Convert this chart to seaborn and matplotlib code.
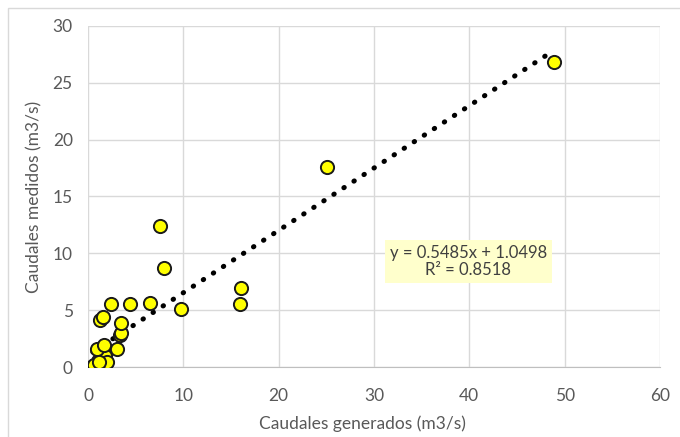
import matplotlib
matplotlib.use("Agg")
import matplotlib.pyplot as plt
import seaborn as sns
import pandas as pd
import numpy as np
from matplotlib.patches import Rectangle

# caudales generados (x) vs medidos (y)
generados = [0.5, 0.7, 0.9, 1.0, 1.4, 1.8, 1.95, 0.9, 1.7, 3.0, 3.4, 3.5, 3.5,
             1.3, 1.6, 2.4, 4.4, 6.5, 9.8, 15.95, 16.1, 7.55, 7.97, 25.1, 48.9, 0.6, 1.2]
medidos = [0.1, 0.2, 0.3, 0.5, 0.47, 0.97, 0.47, 1.55, 1.9, 1.6, 2.8, 2.95, 3.9,
           4.1, 4.4, 5.5, 5.5, 5.6, 5.1, 5.5, 6.95, 12.4, 8.7, 17.6, 26.8, 0.2, 0.4]

pendiente = 0.5485
intercepto = 1.0498
r2 = 0.8518

df = pd.DataFrame({"generados": generados, "medidos": medidos})

sns.set_style("white")
plt.rcParams["font.family"] = ["Lato", "DejaVu Sans"]

fig = plt.figure(figsize=(6.8, 4.37), dpi=100)
ax = fig.add_axes([88 / 680, 1 - 367 / 437, (660 - 88) / 680, (367 - 26) / 437])

# outer chart border
fig.patches.append(Rectangle((8 / 680, -0.1), 1.2, 1 - 8 / 437 + 0.1, transform=fig.transFigure,
                             fill=False, edgecolor="#d9d9d9", linewidth=1.0, zorder=0))

# trend line
x_line = np.array([min(generados), max(generados)])
trend = pd.DataFrame({"x": x_line, "y": pendiente * x_line + intercepto})
sns.lineplot(data=trend, x="x", y="y", ax=ax, color="black", linewidth=3.6,
             linestyle=(0, (0.1, 2.3)), dash_capstyle="round", zorder=3)

sns.scatterplot(data=df, x="generados", y="medidos", ax=ax, s=90, color="#ffff00",
                edgecolor="#1a1a1a", linewidth=1.4, zorder=4)

ax.set_xlim(0, 60)
ax.set_ylim(0, 30)
ax.set_xticks(range(0, 61, 10))
ax.set_yticks(range(0, 31, 5))
ax.grid(True, color="#d9d9d9", linewidth=1.0)
ax.set_axisbelow(True)
for side in ["top", "right", "left"]:
    ax.spines[side].set_visible(False)
ax.spines["bottom"].set_color("#bfbfbf")
ax.tick_params(axis="x", length=0, labelsize=12.5, labelcolor="#595959", pad=15)
ax.tick_params(axis="y", length=0, labelsize=12.5, labelcolor="#595959", pad=11)
ax.set_xlabel("Caudales generados (m3/s)", fontsize=12.5, color="#595959")
ax.set_ylabel("Caudales medidos (m3/s)", fontsize=12.5, color="#595959")
ax.xaxis.set_label_coords(0.48, -0.143)
ax.yaxis.set_label_coords(-0.08, 0.5)

ax.text(39.9, 9.3, f"y = {pendiente}x + {intercepto}\nR² = {r2}", ha="center", va="center",
        fontsize=12, color="#404040", linespacing=1.1, zorder=5,
        bbox=dict(boxstyle="square,pad=0.3", facecolor="#ffffcc", edgecolor="none"))

fig.savefig("out.png", dpi=100)
